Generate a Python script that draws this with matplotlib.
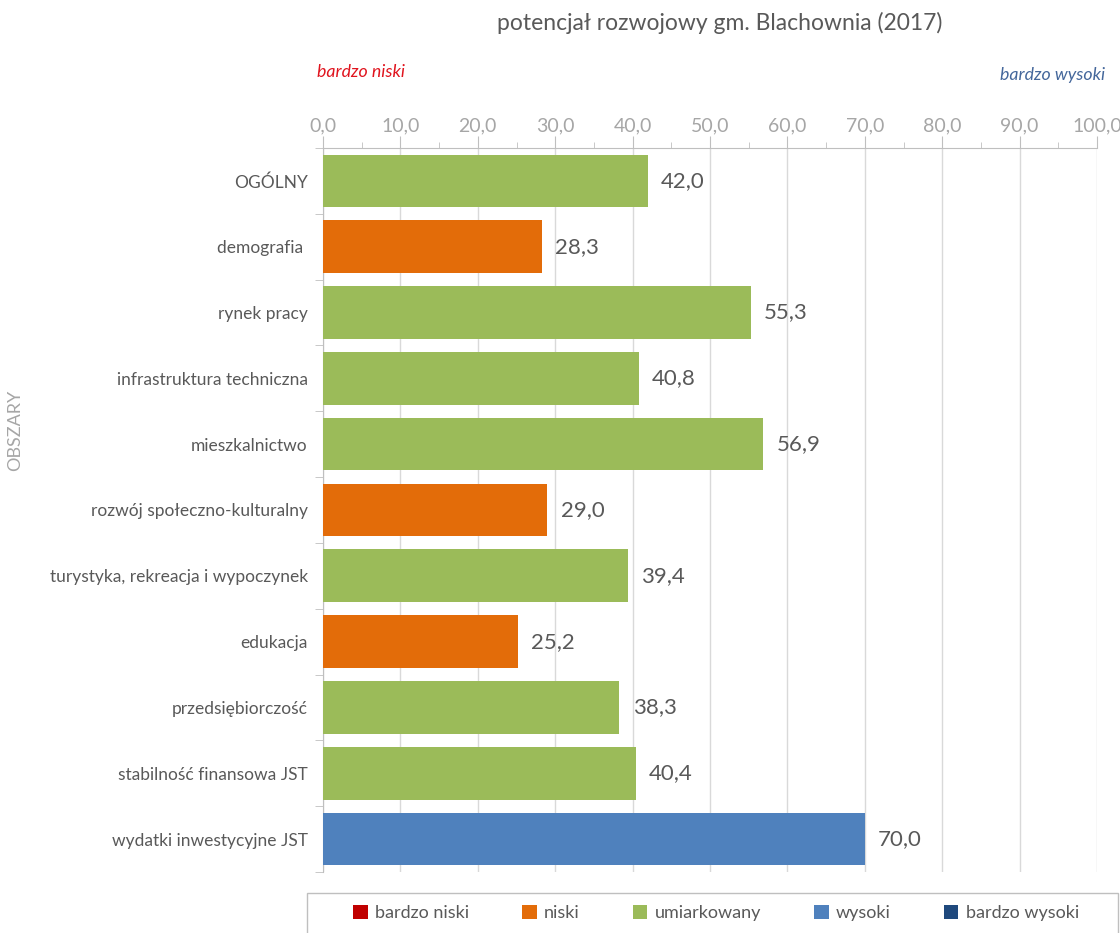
import matplotlib.pyplot as plt
from matplotlib.patches import Patch, Rectangle
from matplotlib.ticker import MultipleLocator, FuncFormatter

categories = ['OGÓLNY', 'demografia ', 'rynek pracy', 'infrastruktura techniczna',
              'mieszkalnictwo', 'rozwój społeczno-kulturalny',
              'turystyka, rekreacja i wypoczynek', 'edukacja',
              'przedsiębiorczość', 'stabilność finansowa JST',
              'wydatki inwestycyjne JST']
values = [42.0, 28.3, 55.3, 40.8, 56.9, 29.0, 39.4, 25.2, 38.3, 40.4, 70.0]
levels = ['umiarkowany', 'niski', 'umiarkowany', 'umiarkowany', 'umiarkowany',
          'niski', 'umiarkowany', 'niski', 'umiarkowany', 'umiarkowany', 'wysoki']

level_names = ['bardzo niski', 'niski', 'umiarkowany', 'wysoki', 'bardzo wysoki']
level_colors = {'bardzo niski': '#C00000', 'niski': '#E36C09', 'umiarkowany': '#9BBB59',
                'wysoki': '#4F81BD', 'bardzo wysoki': '#1F497D'}

plt.rcParams['font.family'] = ['Lato', 'DejaVu Sans']
text_gray = '#595959'
tick_gray = '#A6A6A6'

fig = plt.figure(figsize=(11.2, 9.33), dpi=100)
ax = fig.add_axes([0.2884, 0.0654, 0.6911, 0.776])

y = list(range(len(categories)))
colors = [level_colors[l] for l in levels]
ax.barh(y, values, height=0.8, color=colors, zorder=3)
for yi, v in zip(y, values):
    ax.text(v + 1.7, yi, f'{v:.1f}'.replace('.', ','), va='center', ha='left',
            fontsize=16, color=text_gray)

ax.set_xlim(0, 100)
ax.set_ylim(len(categories) - 0.5, -0.5)
ax.set_yticks(y)
ax.set_yticklabels(categories, fontsize=12.5, color=text_gray)
ax.set_yticks([i - 0.5 for i in range(len(categories) + 1)], minor=True)
ax.tick_params(axis='y', which='major', length=0, pad=11)
ax.tick_params(axis='y', which='minor', length=6, color='#BFBFBF')

ax.xaxis.tick_top()
ax.xaxis.set_major_locator(MultipleLocator(10))
ax.xaxis.set_minor_locator(MultipleLocator(5))
ax.xaxis.set_major_formatter(FuncFormatter(lambda x, p: f'{x:.1f}'.replace('.', ',')))
ax.tick_params(axis='x', which='major', length=9, color='#BFBFBF', labelsize=14,
               labelcolor=tick_gray, pad=1)
ax.tick_params(axis='x', which='minor', length=4, color='#BFBFBF')
ax.grid(axis='x', color='#D9D9D9', linewidth=1, zorder=0)

for s in ['right', 'bottom']:
    ax.spines[s].set_visible(False)
ax.spines['top'].set_color('#BFBFBF')
ax.spines['left'].set_color('#BFBFBF')

fig.text(15 / 1120, 1 - 430 / 933, 'OBSZARY', rotation=90, ha='center', va='center',
         fontsize=13, color=tick_gray)

fig.text(0.643, 0.975, 'potencjał rozwojowy gm. Blachownia (2017)', ha='center', va='center',
         fontsize=16.5, color=text_gray)
fig.text(0.283, 0.923, 'bardzo niski', ha='left', va='center', fontsize=12.8,
         style='italic', color='#E0141E')
fig.text(0.987, 0.920, 'bardzo wysoki', ha='right', va='center', fontsize=12.8,
         style='italic', color='#44679B')

# legend frame (extends past the bottom edge as in the original)
fig.patches.append(Rectangle((307 / 1120, -0.02), 811 / 1120, 0.02 + 40 / 933,
                             transform=fig.transFigure, fill=False,
                             edgecolor='#BFBFBF', linewidth=1))
handles = [Patch(facecolor=level_colors[n], label=n) for n in level_names]
leg = fig.legend(handles=handles, loc='center', ncol=5,
                 bbox_to_anchor=(716 / 1120, 1 - 913 / 933),
                 frameon=False, fontsize=13, handlelength=0.8,
                 handleheight=0.8, handletextpad=0.4, columnspacing=2.95)
for t in leg.get_texts():
    t.set_color(text_gray)

fig.savefig('out.png', dpi=100)
